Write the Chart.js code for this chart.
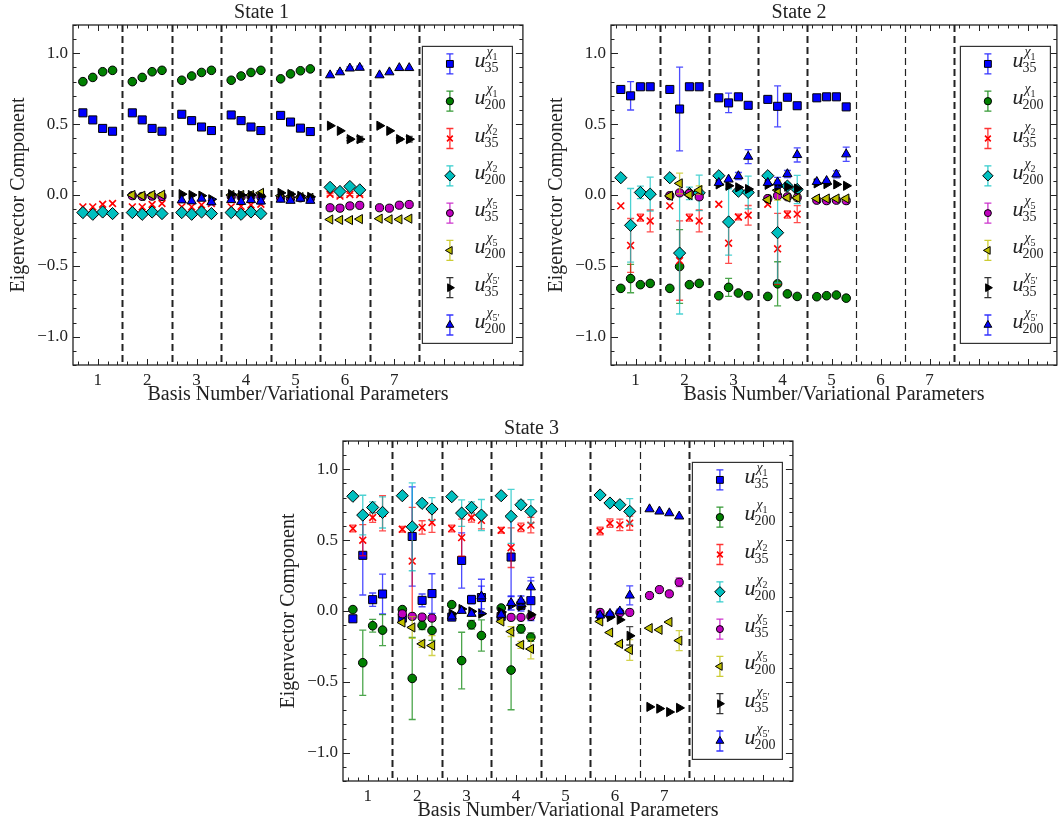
<!DOCTYPE html>
<html>
<head>
<meta charset="utf-8">
<title>Eigenvector components</title>
<script src="https://cdn.jsdelivr.net/npm/chart.js@4.4.1/dist/chart.umd.min.js"></script>
<style>
  html,body{margin:0;padding:0;background:#fff;overflow:hidden;}
  body{width:1064px;height:823px;position:relative;}
  canvas{position:absolute;}
</style>
</head>
<body>
<canvas id="state1" width="530" height="410" style="left:0;top:0"></canvas>
<canvas id="state2" width="526" height="410" style="left:538px;top:0"></canvas>
<canvas id="state3" width="530" height="410" style="left:270px;top:416px"></canvas>
<script>
// ---------- axes ----------
const basisNumbers = [1, 2, 3, 4, 5, 6, 7];
const pointOffsets = [-0.3, -0.1, 0.1, 0.3];   // 4 variational parameters per basis
const xTickLabels = [1, 2, 3, 4, 5, 6, 7];
const yTickValues = [-1.0, -0.5, 0.0, 0.5, 1.0];
const basisDividers = [1.5, 2.5, 3.5, 4.5, 5.5, 6.5, 7.5];

// legend text: u^{chi_n}_{m}
const legendChi = ["1", "1", "2", "2", "5", "5", "5′", "5′"];
const legendSub = ["35", "200", "35", "200", "35", "200", "35", "200"];

// ---------- State 1 (one group of 4 per basis, null = operator not in basis) ----------
const s1_u35_chi1 = [[0.58,0.53,0.47,0.45],[0.58,0.53,0.47,0.45],[0.57,0.525,0.48,0.455],[0.565,0.525,0.48,0.455],[0.562,0.515,0.472,0.448],null,null];
const s1_u200_chi1 = [[0.80,0.83,0.87,0.88],[0.80,0.83,0.87,0.88],[0.81,0.84,0.865,0.88],[0.81,0.84,0.865,0.88],[0.82,0.855,0.877,0.89],null,null];
const s1_u35_chi2 = [[-0.084,-0.084,-0.065,-0.06],[-0.084,-0.084,-0.067,-0.06],[-0.084,-0.084,-0.07,-0.06],[-0.084,-0.08,-0.07,-0.065],null,[0.005,-0.008,0.004,0.004],null];
const s1_u200_chi2 = [[-0.124,-0.136,-0.12,-0.131],[-0.124,-0.136,-0.12,-0.131],[-0.124,-0.136,-0.12,-0.131],[-0.124,-0.136,-0.12,-0.131],null,[0.054,0.025,0.06,0.036],null];
const s1_u35_chi5 = [null,[-0.005,-0.01,-0.008,-0.01],null,[-0.01,-0.012,-0.01,-0.012],[-0.02,-0.025,-0.02,-0.025],[-0.09,-0.093,-0.077,-0.073],[-0.09,-0.093,-0.072,-0.067]];
const s1_u200_chi5 = [null,[0.0,-0.005,0.0,0.002],null,[0.0,0.0,0.0,0.015],[-0.005,-0.01,-0.015,-0.02],[-0.173,-0.176,-0.177,-0.17],[-0.167,-0.172,-0.172,-0.167]];
const s1_u35_chi5p = [null,null,[0.006,0.0,-0.005,-0.03],[0.006,0.0,0.0,-0.01],[0.015,0.006,-0.006,-0.013],[0.489,0.453,0.394,0.394],[0.489,0.453,0.394,0.394]];
const s1_u200_chi5p = [null,null,[-0.037,-0.044,-0.025,-0.05],[-0.035,-0.048,-0.035,-0.045],[-0.032,-0.04,-0.025,-0.04],[0.846,0.867,0.894,0.899],[0.846,0.867,0.897,0.897]];

const s1_u35_chi2_err = [null,null,null,null,null,[0.008,0.008,0.008,0.008],null];
const s1_u35_chi5p_err = [null,null,null,null,null,[0,0,0.01,0.02],[0,0,0.01,0.02]];
const s1_u200_chi5p_err = [null,null,[0,0,0,0.02],[0,0,0,0.02],[0,0,0,0.015],[0,0.01,0.01,0.01],null];

// ---------- State 2 ----------
const s2_u35_chi1 = [[0.745,0.70,0.764,0.764],[0.745,0.607,0.764,0.764],[0.686,0.65,0.693,0.633],[0.675,0.626,0.69,0.63],[0.686,0.693,0.693,0.622],null,null];
const s2_u200_chi1 = [[-0.659,-0.59,-0.633,-0.624],[-0.659,-0.505,-0.633,-0.624],[-0.711,-0.652,-0.692,-0.711],[-0.716,-0.627,-0.698,-0.716],[-0.718,-0.711,-0.706,-0.728],null,null];
const s2_u35_chi2 = [[-0.077,-0.356,-0.16,-0.183],[-0.077,-0.463,-0.16,-0.183],[-0.065,-0.34,-0.155,-0.143],[-0.065,-0.38,-0.138,-0.135],null,null,null];
const s2_u200_chi2 = [[0.122,-0.214,0.018,0.006],[0.122,-0.41,0.011,0.015],[0.136,-0.19,0.027,0.018],[0.136,-0.266,0.063,0.039],null,null,null];
const s2_u35_chi5 = [null,[-0.005,0.015,0.01,-0.013],null,[-0.025,-0.005,-0.013,-0.018],[-0.037,-0.04,-0.037,-0.04],null,null];
const s2_u200_chi5 = [null,[-0.006,0.082,0.0,0.034],null,[-0.033,0.034,-0.018,-0.02],[-0.025,-0.025,-0.025,-0.025],null,null];
const s2_u35_chi5p = [null,null,[0.075,0.065,0.054,0.042],[0.072,0.06,0.058,0.045],[0.082,0.077,0.075,0.065],null,null];
const s2_u200_chi5p = [null,null,[0.086,0.11,0.134,0.271],[0.086,0.09,0.148,0.283],[0.093,0.1,0.146,0.288],null,null];

const s2_u35_chi1_err = [[0,0.10,0,0],[0,0.296,0,0],[0,0.069,0,0.015],[0,0.145,0,0.015],[0,0,0,0.015],null,null];
const s2_u200_chi1_err = [[0,0.10,0,0],[0,0.26,0,0],[0,0.063,0,0],[0,0.156,0,0],null,null,null];
const s2_u35_chi2_err = [[0,0.19,0.025,0.077],[0,0.28,0.025,0.077],[0,0.142,0.02,0.069],[0,0.25,0.025,0.06],null,null,null];
const s2_u200_chi2_err = [[0,0.26,0.044,0.12],[0,0.43,0.044,0.125],[0,0.234,0.02,0.115],[0,0.355,0.02,0.1],null,null,null];
const s2_u200_chi5_err = [null,[0,0.073,0,0.03],null,[0,0.07,0,0.015],[0,0,0,0.015],null,null];
const s2_u200_chi5p_err = [null,null,[0,0,0.025,0.05],[0,0.035,0.025,0.05],[0,0,0.025,0.05],null,null];

// ---------- State 3 ----------
const s3_u35_chi1 = [[-0.055,0.393,0.08,0.12],[-0.05,0.526,0.075,0.123],[-0.043,0.357,0.08,0.095],[-0.038,0.381,0.04,0.073],null,null,null];
const s3_u200_chi1 = [[0.01,-0.365,-0.104,-0.135],[0.01,-0.476,-0.102,-0.138],[0.045,-0.35,-0.097,-0.173],[0.021,-0.417,-0.126,-0.185],null,null,null];
const s3_u35_chi2 = [[0.582,0.50,0.66,0.69],[0.577,0.352,0.59,0.625],[0.582,0.518,0.66,0.64],[0.57,0.447,0.59,0.606],null,[0.565,0.62,0.608,0.62],null];
const s3_u200_chi2 = [[0.81,0.677,0.731,0.696],[0.814,0.594,0.76,0.72],[0.807,0.691,0.731,0.677],[0.814,0.668,0.75,0.703],null,[0.819,0.762,0.75,0.703],null];
const s3_u35_chi5 = [null,[-0.02,-0.038,-0.043,-0.05],null,[-0.03,-0.045,-0.045,-0.038],null,[-0.01,-0.03,-0.012,-0.01],[0.109,0.151,0.121,0.203]];
const s3_u200_chi5 = [null,[-0.081,-0.116,-0.232,-0.244],null,[-0.074,-0.145,-0.239,-0.268],null,[-0.074,-0.152,-0.232,-0.275],[-0.121,-0.133,-0.078,-0.209]];
const s3_u35_chi5p = [null,null,[-0.019,0.014,-0.003,-0.019],[-0.007,0.04,0.033,-0.026],null,[-0.033,-0.043,-0.062,-0.175],[-0.677,-0.689,-0.713,-0.684]];
const s3_u200_chi5p = [null,null,[-0.038,0.002,-0.019,0.104],[-0.026,0.057,0.073,0.168],null,[-0.031,-0.019,-0.002,0.11],[0.719,0.703,0.691,0.668]];

const s3_u35_chi1_err = [[0,0.28,0.047,0.14],[0,0.35,0.045,0.14],[0,0.195,0.03,0.08],[0,0.28,0.04,0.14],null,null,null];
const s3_u200_chi1_err = [[0,0.23,0.045,0.11],[0,0.29,0.03,0.07],[0,0.2,0.03,0.11],[0,0.28,0.03,0.03],null,null,null];
const s3_u35_chi2_err = [[0.024,0.11,0.035,0.125],[0.02,0.38,0.047,0.07],[0.024,0.13,0.033,0.06],[0.02,0.14,0.03,0.055],null,[0.027,0.03,0.04,0.05],null];
const s3_u200_chi2_err = [[0,0.14,0.04,0.11],[0,0.31,0.025,0.08],[0,0.094,0.04,0.11],[0,0.19,0.03,0.083],null,[0,0,0,0.09],null];
const s3_u35_chi5_err = [null,null,null,null,null,null,[0,0,0,0.03]];
const s3_u200_chi5_err = [null,[0,0.077,0.024,0.07],null,[0,0.035,0.025,0.07],null,[0,0,0.015,0.073],[0,0,0,0.07]];
const s3_u35_chi5p_err = [null,null,null,null,null,[0,0,0,0.065],null];
const s3_u200_chi5p_err = [null,null,[0,0,0,0.12],[0,0.05,0.033,0.07],null,[0,0,0.015,0.067],null];

// ---------- styles ----------
const SERIF = "'Liberation Serif', 'DejaVu Serif', serif";
const INK = "#222";
const seriesStyle = [
  {color:"#0000ff", shape:"rect",     radius:5.7, rotation:0},
  {color:"#008000", shape:"circle",   radius:4.3, rotation:0},
  {color:"#ff0000", shape:"crossRot", radius:4.8, rotation:0, edge:"#ff0000", edgeWidth:1.6},
  {color:"#00bfbf", shape:"rectRot",  radius:6.1, rotation:0},
  {color:"#bf00bf", shape:"circle",   radius:4.1, rotation:0},
  {color:"#bfbf00", shape:"triangle", radius:5.3, rotation:-90},
  {color:"#000000", shape:"triangle", radius:5.3, rotation:90},
  {color:"#0000ff", shape:"triangle", radius:5.3, rotation:0}
];

function makePoints(vals, errs){
  const pts = [];
  vals.forEach((grp, b) => {
    if(!grp) return;
    grp.forEach((v, k) => {
      pts.push({x: basisNumbers[b] + pointOffsets[k], y: v, e: (errs && errs[b]) ? errs[b][k] : 0});
    });
  });
  return pts;
}

// vertical dashed separators between basis sets
const basisLines = {
  id:"basisLines",
  beforeDatasetsDraw(chart, args, opts){
    const {ctx, chartArea:a, scales:{x}} = chart;
    ctx.save();
    ctx.strokeStyle = INK;
    ctx.setLineDash([7, 4]);
    basisDividers.forEach((v, i) => {
      const px = Math.round(x.getPixelForValue(v)) + 0.5;
      ctx.lineWidth = opts.widths[i];
      ctx.beginPath(); ctx.moveTo(px, a.top); ctx.lineTo(px, a.bottom); ctx.stroke();
    });
    ctx.restore();
  }
};

// error bars go right under each series' own markers
const errorBars = {
  id:"errorBars",
  beforeDatasetDraw(chart, args){
    const ds = chart.data.datasets[args.index];
    const {ctx, chartArea:a, scales:{y}} = chart;
    ctx.save();
    ctx.beginPath(); ctx.rect(a.left, a.top, a.right - a.left, a.bottom - a.top); ctx.clip();
    ctx.strokeStyle = ds.errColor; ctx.globalAlpha = 0.7; ctx.lineWidth = 1.3;
    args.meta.data.forEach((el, i) => {
      const p = ds.data[i];
      if(!p.e) return;
      const t = y.getPixelForValue(p.y + p.e), b = y.getPixelForValue(p.y - p.e);
      ctx.beginPath();
      ctx.moveTo(el.x, t); ctx.lineTo(el.x, b);
      ctx.moveTo(el.x - 3.5, t); ctx.lineTo(el.x + 3.5, t);
      ctx.moveTo(el.x - 3.5, b); ctx.lineTo(el.x + 3.5, b);
      ctx.stroke();
    });
    ctx.restore();
  }
};

// box frame + inward ticks on all four sides
const frameTicks = {
  id:"frameTicks",
  afterDraw(chart){
    const {ctx, chartArea:a, scales:{x, y}} = chart;
    ctx.save();
    ctx.strokeStyle = INK; ctx.lineWidth = 1;
    ctx.beginPath();
    for(let k = -12; k <= 12; k++){
      const py = Math.round(y.getPixelForValue(k / 10)) + 0.5;
      const len = k % 5 === 0 ? 7 : 3.5;
      ctx.moveTo(a.left, py); ctx.lineTo(a.left + len, py);
      ctx.moveTo(a.right, py); ctx.lineTo(a.right - len, py);
    }
    for(let k = 3; k <= 47; k++){
      const px = Math.round(x.getPixelForValue(k / 5)) + 0.5;
      const len = k % 5 === 0 ? 6 : 3.5;
      ctx.moveTo(px, a.bottom); ctx.lineTo(px, a.bottom - len);
      ctx.moveTo(px, a.top); ctx.lineTo(px, a.top + len);
    }
    ctx.stroke();
    ctx.lineWidth = 1.3;
    ctx.strokeRect(a.left, a.top, a.right - a.left, a.bottom - a.top);
    ctx.restore();
  }
};

function drawLegendLabel(ctx, x, cy, i){
  ctx.fillStyle = INK; ctx.textAlign = "left"; ctx.textBaseline = "alphabetic";
  ctx.font = "italic 22px " + SERIF;
  ctx.fillText("u", x, cy + 3);
  const uw = ctx.measureText("u").width;
  ctx.font = "italic 14px " + SERIF;
  ctx.fillText("χ", x + uw + 1, cy - 8);
  const cw = ctx.measureText("χ").width;
  ctx.font = "10px " + SERIF;
  ctx.fillText(legendChi[i], x + uw + 1 + cw, cy - 4);
  ctx.font = "14px " + SERIF;
  ctx.fillText(legendSub[i], x + uw - 1, cy + 8);
}

// boxed legend with error-bar symbols
const boxLegend = {
  id:"boxLegend",
  afterDraw(chart){
    const {ctx, chartArea:a} = chart;
    const left = a.left + 349.4, top = a.top + 21.4, w = 90, h = 297;
    ctx.save();
    ctx.fillStyle = "#fff"; ctx.fillRect(left, top, w, h);
    ctx.strokeStyle = "#333"; ctx.lineWidth = 1.2; ctx.strokeRect(left, top, w, h);
    seriesStyle.forEach((s, i) => {
      const cy = top + 17.5 + i * 37.3, sx = left + 27.5;
      ctx.save();
      ctx.strokeStyle = s.color; ctx.globalAlpha = 0.8; ctx.lineWidth = 1.3;
      ctx.beginPath();
      ctx.moveTo(sx, cy - 10); ctx.lineTo(sx, cy + 10);
      ctx.moveTo(sx - 3.5, cy - 10); ctx.lineTo(sx + 3.5, cy - 10);
      ctx.moveTo(sx - 3.5, cy + 10); ctx.lineTo(sx + 3.5, cy + 10);
      ctx.stroke();
      ctx.restore();
      ctx.fillStyle = s.color; ctx.strokeStyle = s.edge || "#000"; ctx.lineWidth = s.edgeWidth || 1;
      Chart.helpers.drawPoint(ctx, {pointStyle:s.shape, rotation:s.rotation, radius:s.radius * 0.85, borderWidth:s.edgeWidth || 1}, sx, cy);
      drawLegendLabel(ctx, left + 52, cy, i);
    });
    ctx.restore();
  }
};

function buildState(id, title, series, errs, lineWidths, padRight){
  const datasets = series.map((vals, i) => ({
    data: makePoints(vals, errs[i]),
    showLine: false,
    order: -i,
    errColor: seriesStyle[i].color,
    pointStyle: seriesStyle[i].shape,
    pointRadius: seriesStyle[i].radius,
    pointRotation: seriesStyle[i].rotation,
    backgroundColor: seriesStyle[i].color,
    borderColor: seriesStyle[i].edge || "#000",
    pointBorderWidth: seriesStyle[i].edgeWidth || 1
  }));
  return new Chart(document.getElementById(id), {
    type: "scatter",
    data: {datasets},
    options: {
      responsive: false, animation: false, devicePixelRatio: 1, events: [],
      layout: {padding: {left: 0, right: padRight, top: 0, bottom: 0}},
      plugins: {
        legend: {display: false},
        tooltip: {enabled: false},
        title: {display: true, text: title, color: INK, font: {family: SERIF, size: 20, weight: "normal"}, padding: {top: 1, bottom: 0}},
        basisLines: {widths: lineWidths}
      },
      scales: {
        x: {
          type: "linear", min: 0.5, max: 9.6,
          afterBuildTicks: s => { s.ticks = xTickLabels.map(v => ({value: v})); },
          afterFit: s => { s.height = 45; },
          grid: {display: false, drawTicks: false},
          border: {display: false},
          ticks: {color: INK, font: {family: SERIF, size: 17}, padding: 5, maxRotation: 0, autoSkip: false},
          title: {display: true, text: "Basis Number/Variational Parameters", color: INK, font: {family: SERIF, size: 20}, padding: {top: 0, bottom: 3}}
        },
        y: {
          type: "linear", min: -1.2, max: 1.2,
          afterBuildTicks: s => { s.ticks = yTickValues.map(v => ({value: v})); },
          afterFit: s => { s.width = 73; },
          grid: {display: false, drawTicks: false},
          border: {display: false},
          ticks: {color: INK, font: {family: SERIF, size: 17}, padding: 5,
                  callback: v => (v < 0 ? "−" : "") + Math.abs(v).toFixed(1)},
          title: {display: true, text: "Eigenvector Component", color: INK, font: {family: SERIF, size: 20}, padding: {top: 7, bottom: 0}}
        }
      }
    },
    plugins: [basisLines, errorBars, frameTicks, boxLegend]
  });
}

buildState("state1", "State 1",
  [s1_u35_chi1, s1_u200_chi1, s1_u35_chi2, s1_u200_chi2, s1_u35_chi5, s1_u200_chi5, s1_u35_chi5p, s1_u200_chi5p],
  [null, null, s1_u35_chi2_err, null, null, null, s1_u35_chi5p_err, s1_u200_chi5p_err],
  [2, 2, 2, 2, 2, 2, 2], 7);

buildState("state2", "State 2",
  [s2_u35_chi1, s2_u200_chi1, s2_u35_chi2, s2_u200_chi2, s2_u35_chi5, s2_u200_chi5, s2_u35_chi5p, s2_u200_chi5p],
  [s2_u35_chi1_err, s2_u200_chi1_err, s2_u35_chi2_err, s2_u200_chi2_err, null, s2_u200_chi5_err, null, s2_u200_chi5p_err],
  [2, 2, 2, 2, 1.2, 1.2, 2], 4);

buildState("state3", "State 3",
  [s3_u35_chi1, s3_u200_chi1, s3_u35_chi2, s3_u200_chi2, s3_u35_chi5, s3_u200_chi5, s3_u35_chi5p, s3_u200_chi5p],
  [s3_u35_chi1_err, s3_u200_chi1_err, s3_u35_chi2_err, s3_u200_chi2_err, s3_u35_chi5_err, s3_u200_chi5_err, s3_u35_chi5p_err, s3_u200_chi5p_err],
  [2, 2, 2, 2, 2, 1.2, 2], 7);
</script>
</body>
</html>
